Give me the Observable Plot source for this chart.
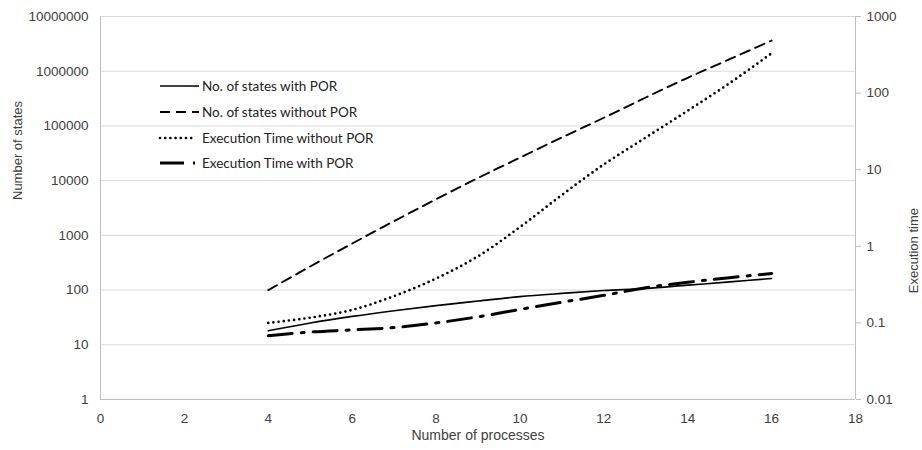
<!DOCTYPE html>
<html><head><meta charset="utf-8">
<script src="https://cdn.jsdelivr.net/npm/d3@7"></script>
<script src="https://cdn.jsdelivr.net/npm/@observablehq/plot@0.6"></script>
<style>
body{margin:0;background:#fff}
#chart{position:relative;width:922px;height:450px}
</style>
</head><body><div id="chart"></div>
<script>
// ---- data ----
const processes = [4, 5, 6, 7, 8, 9, 10, 11, 12, 13, 14, 15, 16];
const statesWithPOR = [18, 25, 33, 42, 52, 63, 76, 87, 98, 107, 123, 141, 163];
const statesWithoutPOR = [100, 270, 710, 1820, 4570, 11200, 26300, 61700, 141000, 331000, 759000, 1660000, 3630000];
const timeWithoutPOR = [0.1, 0.117, 0.148, 0.224, 0.38, 0.74, 1.78, 4.68, 11.7, 26.3, 58.9, 135, 331];
const timeWithPOR = [0.068, 0.076, 0.081, 0.087, 0.1, 0.12, 0.15, 0.186, 0.229, 0.288, 0.339, 0.389, 0.442];
const seriesNames = ["No. of states with POR", "No. of states without POR", "Execution Time without POR", "Execution Time with POR"];
const xTicks = [0, 2, 4, 6, 8, 10, 12, 14, 16, 18];
const leftTicks = [1, 10, 100, 1000, 10000, 100000, 1000000, 10000000];
const rightTicks = [0.01, 0.1, 1, 10, 100, 1000];

// right axis (0.01..1000) mapped onto left axis (1..1e7)
const toLeft = r => Math.pow(10, (Math.log10(r) + 2) * 7 / 5);

const styles = [
  {stroke: "#000", strokeWidth: 1.6},
  {stroke: "#000", strokeWidth: 1.9, strokeDasharray: "10,6"},
  {stroke: "#000", strokeWidth: 2.7, strokeDasharray: "0,5.2", strokeLinecap: "round"},
  {stroke: "#000", strokeWidth: 3, strokeDasharray: "24,9,3,9"}
];
const seriesValues = [statesWithPOR, statesWithoutPOR, timeWithoutPOR, timeWithPOR];
const onRight = [false, false, true, true];

const lineMarks = seriesValues.map((vals, i) => {
  const rows = processes.map((x, j) => ({x, y: onRight[i] ? toLeft(vals[j]) : vals[j]}));
  return Plot.line(rows, {x: "x", y: "y", curve: "catmull-rom", ...styles[i]});
});

const textColor = "#404040";
const axisColor = "#bfbfbf";

const plot = Plot.plot({
  width: 922,
  height: 450,
  marginLeft: 100,
  marginRight: 67,
  marginTop: 16,
  marginBottom: 51,
  style: {fontFamily: "Liberation Sans, Arial, sans-serif", fontSize: "13.5px", color: textColor, background: "#fff"},
  x: {domain: [0, 18]},
  y: {type: "log", domain: [1, 1e7]},
  marks: [
    Plot.gridY(leftTicks, {stroke: "#d9d9d9", strokeOpacity: 1, strokeWidth: 1}),
    Plot.ruleX([0], {stroke: axisColor, strokeWidth: 1}),
    Plot.ruleX([18], {stroke: axisColor, strokeWidth: 1}),
    Plot.ruleY([1], {stroke: axisColor, strokeWidth: 1}),
    Plot.axisY(leftTicks, {anchor: "left", tickSize: 0, tickPadding: 12, tickFormat: d => String(d), label: null, fill: textColor}),
    Plot.axisY(rightTicks.map(toLeft), {anchor: "right", tickSize: 5, stroke: axisColor, tickFormat: () => "", label: null}),
    Plot.text(rightTicks, {y: d => toLeft(d), text: d => String(d), frameAnchor: "right", dx: 11, textAnchor: "start", fill: textColor}),
    Plot.axisX(xTicks, {tickSize: 0, tickPadding: 14, label: null, fill: textColor}),
    ...lineMarks,
    Plot.text(["Number of processes"], {frameAnchor: "bottom", dy: 40, fill: textColor, fontSize: 14}),
    Plot.text(["Number of states"], {frameAnchor: "left", dx: -83, dy: -8, rotate: -90, fill: textColor, fontSize: 13}),
    Plot.text(["Execution time"], {frameAnchor: "right", dx: 58, rotate: -90, fill: textColor, fontSize: 13})
  ]
});

// legend inside the plot area
const svg = d3.select(plot);
const lg = svg.append("g").attr("font-family", "Lato, 'Open Sans', sans-serif").attr("font-size", 13.5)
  .attr("fill", "#222").attr("text-anchor", "start");
const legendY = [86, 112, 138, 163];
const legendX2 = [199, 199, 193, 195];
seriesNames.forEach((name, i) => {
  const s = styles[i];
  lg.append("line").attr("x1", 160).attr("x2", legendX2[i]).attr("y1", legendY[i]).attr("y2", legendY[i])
    .attr("stroke", s.stroke).attr("stroke-width", s.strokeWidth)
    .attr("stroke-linecap", s.strokeLinecap || "butt")
    .attr("stroke-dasharray", s.strokeDasharray || null);
  lg.append("text").attr("x", 202).attr("y", legendY[i]).attr("dy", "0.35em").text(name);
});

document.getElementById("chart").appendChild(plot);
</script>
</body></html>
